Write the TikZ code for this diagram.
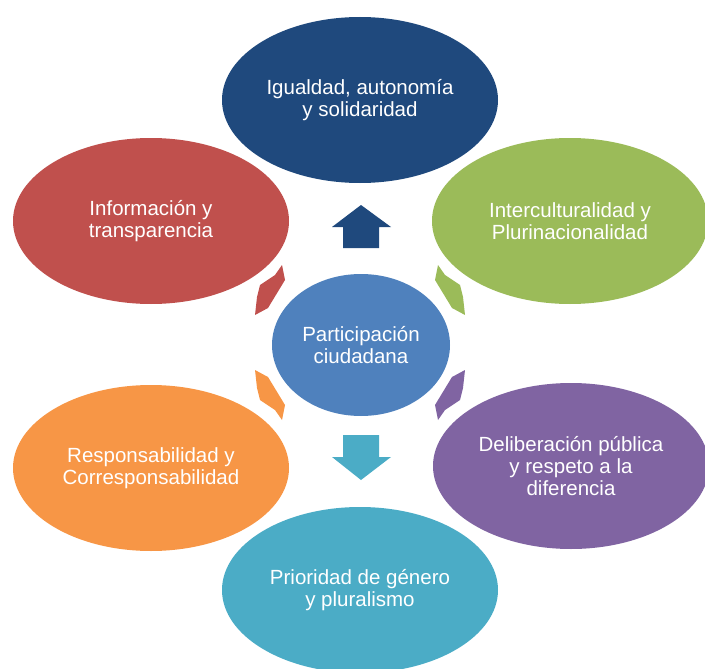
\documentclass[tikz,border=0pt]{standalone}
\usepackage{fontspec}
\setmainfont{Liberation Sans}
\usetikzlibrary{shapes.geometric}
\definecolor{cdblue}{HTML}{1F497D}
\definecolor{cgreen}{HTML}{9BBB59}
\definecolor{cred}{HTML}{C0504D}
\definecolor{corange}{HTML}{F79646}
\definecolor{cpurple}{HTML}{8064A2}
\definecolor{ccyan}{HTML}{4BACC6}
\definecolor{ccenter}{HTML}{4F81BD}
\tikzset{
  oval/.style={ellipse, inner sep=0pt, minimum width=276pt, minimum height=166pt,
    text=white, align=center, font=\fontsize{20.5}{22}\selectfont},
  darrow/.pic={\fill[pic actions] (78,77.5) -- (85,67.5) -- (100,57.5) -- (103,45.5)
     -- (105,27.5) -- (92,34.5) -- (75,62.5) -- cycle;}
}
\begin{document}
\begin{tikzpicture}[x=1pt,y=1pt]
\useasboundingbox (0,0) rectangle (705,-669);
\clip (0,0) rectangle (705,-669);
\node[oval, fill=cdblue] (top) at (360,-100) {Igualdad, autonomía\\y solidaridad};
\node[oval, fill=cred] (info) at (151,-221) {Información y\\transparencia};
\node[oval, fill=cgreen] (inter) at (570,-221) {Interculturalidad y\\Plurinacionalidad};
\node[oval, fill=corange] (resp) at (151,-468) {Responsabilidad y\\Corresponsabilidad};
\node[oval, fill=cpurple] (delib) at (571,-466) {Deliberación pública\\y respeto a la\\diferencia};
\node[oval, fill=ccyan] (prio) at (360,-590) {Prioridad de género\\y pluralismo};
\node[oval, fill=ccenter, minimum width=178pt, minimum height=142pt] (center) at (361,-345) {Participación\\ciudadana};
% up arrow
\fill[cdblue] (361,-205) -- (391,-227) -- (379,-227) -- (379,-248) -- (343,-248) -- (343,-227) -- (332,-227) -- cycle;
% down arrow
\fill[ccyan] (361,-480) -- (391,-457) -- (379,-457) -- (379,-435) -- (343,-435) -- (343,-457) -- (332,-457) -- cycle;
% diagonal arrows
\pic[fill=cgreen] at (360,-342.5) {darrow};
\pic[fill=cred, xscale=-1] at (360,-342.5) {darrow};
\pic[fill=cpurple, yscale=-1] at (360,-342.5) {darrow};
\pic[fill=corange, xscale=-1, yscale=-1] at (360,-342.5) {darrow};
\end{tikzpicture}
\end{document}
